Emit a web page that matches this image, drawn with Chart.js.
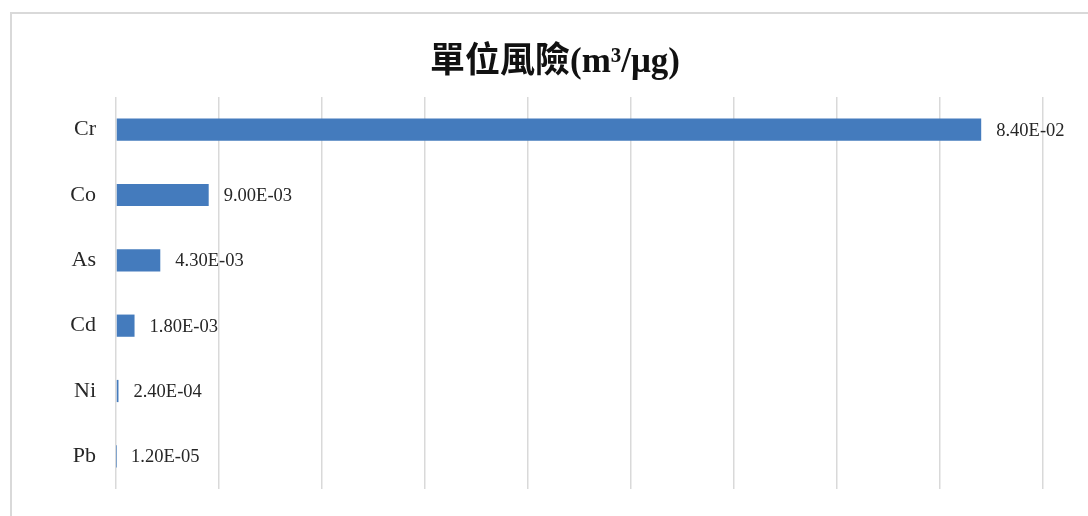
<!DOCTYPE html>
<html>
<head>
<meta charset="utf-8">
<script src="https://cdn.jsdelivr.net/npm/chart.js@4"></script>
<style>
  body { margin: 0; background: #fff; }
  #wrap { position: relative; width: 1088px; height: 516px; overflow: hidden; }
  #frame { position: absolute; left: 10px; top: 12px; width: 1100px; height: 530px; border: 2px solid #d9d9d9; box-sizing: border-box; }
  #chart { position: absolute; left: 0; top: 0; }
</style>
</head>
<body>
<div id="wrap">
  <div id="frame"></div>
  <canvas id="chart" width="1110" height="516"></canvas>
</div>
<script>
const metals = ['Cr', 'Co', 'As', 'Cd', 'Ni', 'Pb']
const unitRisk = [8.4e-2, 9.0e-3, 4.3e-3, 1.8e-3, 2.4e-4, 1.2e-5]
const chartTitle = '單位風險(m³/μg)'

// excel style scientific label, e.g. 8.40E-02
function sci(v){
    let [m, e] = v.toExponential(2).split('e')
    let n = parseInt(e)
    let sign = n < 0 ? '-' : '+'
    return m + 'E' + sign + String(Math.abs(n)).padStart(2, '0')
}

const barLabels = {
    id: 'barLabels',
    afterDatasetsDraw(chart){
        const ctx = chart.ctx
        const meta = chart.getDatasetMeta(0)
        ctx.save()
        ctx.font = '18.5px "Liberation Serif", serif'
        ctx.fillStyle = '#262626'
        ctx.textAlign = 'left'
        ctx.textBaseline = 'middle'
        meta.data.forEach((bar, i) => {
            ctx.fillText(sci(unitRisk[i]), bar.x + 15, bar.y + 1)
        })
        ctx.restore()
    }
}

Chart.defaults.devicePixelRatio = 1

new Chart(document.getElementById('chart'), {
    type: 'bar',
    data: {
        labels: metals,
        datasets: [{
            data: unitRisk,
            backgroundColor: '#447bbd',
            categoryPercentage: 1,
            barPercentage: 0.34
        }]
    },
    options: {
        indexAxis: 'y',
        responsive: false,
        animation: false,
        layout: { padding: { left: 0, right: 0, bottom: 27, top: 0 } },
        plugins: {
            legend: { display: false },
            tooltip: { enabled: false },
            title: {
                display: true,
                text: chartTitle,
                color: '#111',
                font: { family: '"Liberation Serif", "Noto Sans CJK TC", serif', size: 35, weight: 'bold', lineHeight: 1.2 },
                padding: { top: 42, bottom: 13 }
            }
        },
        scales: {
            x: {
                min: 0,
                max: 0.09,
                ticks: { display: false, stepSize: 0.01 },
                grid: { color: '#d9d9d9', lineWidth: 1.5, drawTicks: false },
                border: { display: false },
                afterFit(scale){ scale.height = 0 }
            },
            y: {
                ticks: {
                    color: '#262626',
                    padding: 20,
                    font: { family: '"Liberation Serif", serif', size: 22 }
                },
                grid: { display: false, drawTicks: false },
                border: { display: false },
                afterFit(scale){
                    scale.width = 116
                    scale.paddingTop = 0
                    scale.paddingBottom = 0
                }
            },
            // empty right margin so the title centres on the whole frame
            yRight: {
                type: 'category',
                position: 'right',
                ticks: { display: false },
                grid: { display: false, drawTicks: false },
                border: { display: false },
                afterFit(scale){ scale.width = 67 }
            }
        }
    },
    plugins: [barLabels]
})
</script>
</body>
</html>
